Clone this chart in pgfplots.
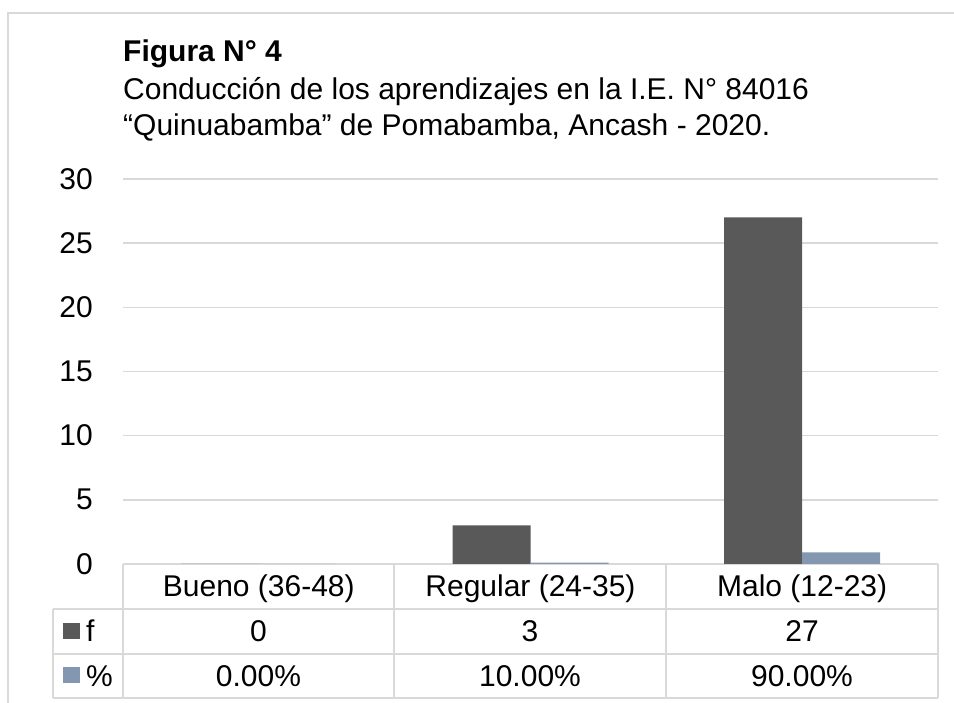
\documentclass[border=0pt]{standalone}
\usepackage{fontspec}
\setmainfont{Liberation Sans}
\usepackage{pgfplots}
\pgfplotsset{compat=1.18}
\definecolor{fcol}{HTML}{595959}
\definecolor{pcol}{HTML}{8497B0}
\definecolor{gridc}{HTML}{D9D9D9}
\newcommand\chfont{\fontsize{30}{36}\selectfont}
\begin{document}
\begin{tikzpicture}[x=1pt,y=1pt]
\useasboundingbox (0,0) rectangle (954,703);
\draw[gridc, line width=1.5pt] (8,0) -- (8,690) -- (954,690);
\begin{axis}[at={(123pt,139pt)}, anchor=south west, scale only axis,
  width=815pt, height=385pt,
  xmin=-0.5, xmax=2.5, ymin=0, ymax=30,
  ytick={0,5,...,30}, xtick={0,1,2},
  xticklabels={Bueno (36-48), Regular (24-35), Malo (12-23)},
  axis line style={draw=none}, major tick length=0pt,
  ymajorgrids, grid style={gridc, line width=1.5pt},
  /pgf/number format/assume math mode=true,
  yticklabel style={font=\chfont, inner sep=0pt, anchor=east, xshift=-30pt},
  xticklabel style={font=\chfont, inner sep=0pt, anchor=base, yshift=-33pt},
  clip=false]
\addplot[ybar, bar width=78pt, bar shift=-39pt, fill=fcol, draw=none] coordinates {(0,0) (1,3) (2,27)};
\addplot[ybar, bar width=78pt, bar shift=39pt, fill=pcol, draw=none] coordinates {(0,0) (1,0.1) (2,0.9)};
\end{axis}
\draw[gridc, line width=1.5pt] (53,94)--(938,94) (53,49)--(938,49) (53,5)--(938,5)
  (53,94)--(53,5) (123,139)--(123,5) (394,139)--(394,5) (666,139)--(666,5) (938,139)--(938,5);
\fill[fcol] (63,64) rectangle (80,80);
\fill[pcol] (63,20) rectangle (80,36);
\begin{scope}[every node/.style={inner sep=0pt, font=\chfont}]
\node[anchor=base west] at (86,61) {f};
\node[anchor=base west] at (86,16) {\%};
\node[anchor=base] at (258.5,61) {0};
\node[anchor=base] at (530,61) {3};
\node[anchor=base] at (802,61) {27};
\node[anchor=base] at (258.5,16) {0.00\%};
\node[anchor=base] at (530,16) {10.00\%};
\node[anchor=base] at (802,16) {90.00\%};
\node[anchor=base west] at (123,641) {\bfseries Figura N° 4};
\node[anchor=base west] at (123,603) {Conducción de los aprendizajes en la I.E. N° 84016};
\node[anchor=base west] at (123,567) {“Quinuabamba” de Pomabamba, Ancash - 2020.};
\end{scope}
\end{tikzpicture}
\end{document}
